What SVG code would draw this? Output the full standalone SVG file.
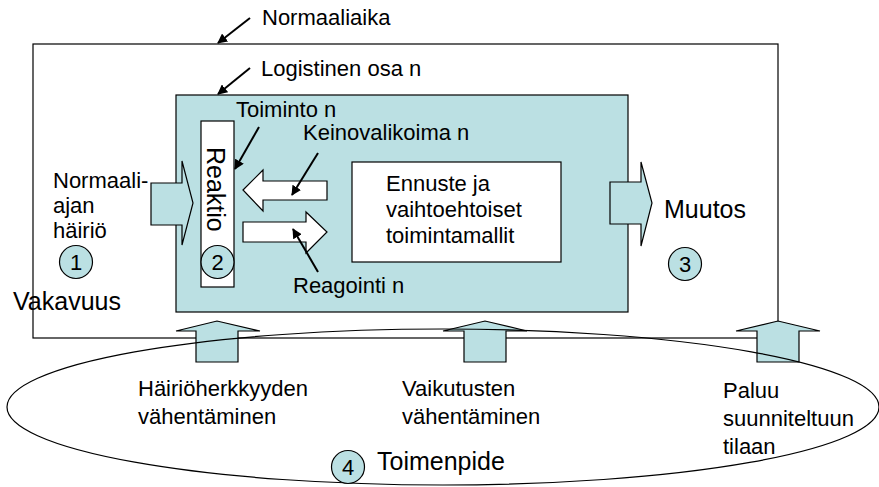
<svg xmlns="http://www.w3.org/2000/svg" width="879" height="487" viewBox="0 0 879 487">
  <style>
    text { font-family: "Liberation Sans", Arial, sans-serif; fill: #000; }
    .t22 { font-size: 22px; }
    .t25 { font-size: 25px; }
    .num { font-size: 22px; text-anchor: middle; }
    .teal { fill: #BBE0E3; stroke: #000; stroke-width: 1.2; }
    .white { fill: #fff; stroke: #000; stroke-width: 1.2; }
    .frame { fill: none; stroke: #000; stroke-width: 1.2; }
    .leader { stroke: #000; stroke-width: 2; fill: none; marker-end: url(#head); }
  </style>
  <defs>
    <marker id="head" viewBox="0 0 10 10" refX="9" refY="5" markerWidth="5" markerHeight="5" orient="auto" markerUnits="strokeWidth">
      <path d="M0,0 L10,5 L0,10 z" fill="#000"/>
    </marker>
  </defs>

  <rect width="879" height="487" fill="#fff"/>

  <!-- Normal-time frame -->
  <g id="normaaliaika">
    <rect class="frame" x="33" y="44" width="745" height="294"/>
    <text class="t22" x="262" y="25">Normaaliaika</text>
    <text class="t25" x="13" y="310">Vakavuus</text>
  </g>

  <!-- Logistic part -->
  <g id="logistinen-osa">
    <rect class="teal" x="176" y="95" width="452" height="217"/>
    <text class="t22" x="261" y="76">Logistinen osa n</text>
  </g>

  <!-- Reaction column -->
  <g id="reaktio">
    <rect class="white" x="201" y="121" width="33" height="166"/>
    <text class="t25" transform="translate(207,147) rotate(90)">Reaktio</text>
    <text class="t22" x="236" y="117">Toiminto n</text>
  </g>

  <!-- Forecast box -->
  <g id="ennuste">
    <rect class="white" x="352" y="162" width="209" height="100"/>
    <text class="t22" x="386" y="191">Ennuste ja</text>
    <text class="t22" x="386" y="217">vaihtoehtoiset</text>
    <text class="t22" x="386" y="243">toimintamallit</text>
  </g>

  <!-- Disturbance input -->
  <g id="hairio">
    <polygon class="teal" points="151,183 182,183 182,161 193,203 182,245 182,225 151,225"/>
    <text class="t22" x="53" y="188">Normaali-</text>
    <text class="t22" x="53" y="213">ajan</text>
    <text class="t22" x="53" y="238">häiriö</text>
  </g>

  <!-- Means selection -->
  <g id="keinovalikoima">
    <polygon class="white" points="243,190 263,170 263,181 327,181 327,200 263,200 263,211"/>
    <text class="t22" x="303" y="140">Keinovalikoima n</text>
  </g>

  <!-- Reacting -->
  <g id="reagointi">
    <polygon class="white" points="243,222 306,222 306,212 327,232 306,253 306,242 243,242"/>
    <text class="t22" x="293" y="293">Reagointi n</text>
  </g>

  <!-- Change output -->
  <g id="muutos">
    <polygon class="teal" points="610,182 641,182 641,162 652,203 641,246 641,224 610,224"/>
    <text class="t25" x="664" y="218">Muutos</text>
  </g>

  <!-- Numbered phases -->
  <g id="vaihe-1">
    <circle class="teal" cx="76" cy="262" r="16.5"/>
    <text class="num" x="76" y="270">1</text>
  </g>
  <g id="vaihe-2">
    <circle class="teal" cx="217.5" cy="262" r="16.5"/>
    <text class="num" x="217.5" y="270">2</text>
  </g>
  <g id="vaihe-3">
    <circle class="teal" cx="685" cy="264" r="16.5"/>
    <text class="num" x="685" y="272">3</text>
  </g>

  <!-- Measures feeding back upward -->
  <g id="hairioherkkyys">
    <polygon class="teal" points="196,362 196,331 176,331 217,321 260,331 238,331 238,362"/>
    <text class="t22" x="138" y="396">Häiriöherkkyyden</text>
    <text class="t22" x="138" y="424">vähentäminen</text>
  </g>
  <g id="vaikutukset">
    <polygon class="teal" points="464,362 464,331 443,331 485,321 527,331 506,331 506,362"/>
    <text class="t22" x="402" y="396">Vaikutusten</text>
    <text class="t22" x="402" y="424">vähentäminen</text>
  </g>
  <g id="paluu">
    <polygon class="teal" points="757,362 757,331 736,331 778,321 820,331 799,331 799,362"/>
    <text class="t22" x="723" y="398">Paluu</text>
    <text class="t22" x="723" y="426">suunniteltuun</text>
    <text class="t22" x="723" y="454">tilaan</text>
  </g>

  <!-- Measures ellipse -->
  <g id="toimenpide">
    <ellipse class="frame" cx="443" cy="407" rx="436" ry="78"/>
    <circle class="teal" cx="348" cy="467" r="16.5"/>
    <text class="num" x="348" y="475">4</text>
    <text class="t25" x="377" y="470">Toimenpide</text>
  </g>

  <!-- Label pointers -->
  <g id="connectors">
    <line class="leader" x1="250" y1="18" x2="218" y2="43"/>
    <line class="leader" x1="250" y1="68" x2="218" y2="94"/>
    <line class="leader" x1="259" y1="127" x2="235" y2="169"/>
    <line class="leader" x1="318" y1="153" x2="292" y2="195"/>
    <line class="leader" x1="318" y1="272" x2="293" y2="229"/>
  </g>
</svg>
